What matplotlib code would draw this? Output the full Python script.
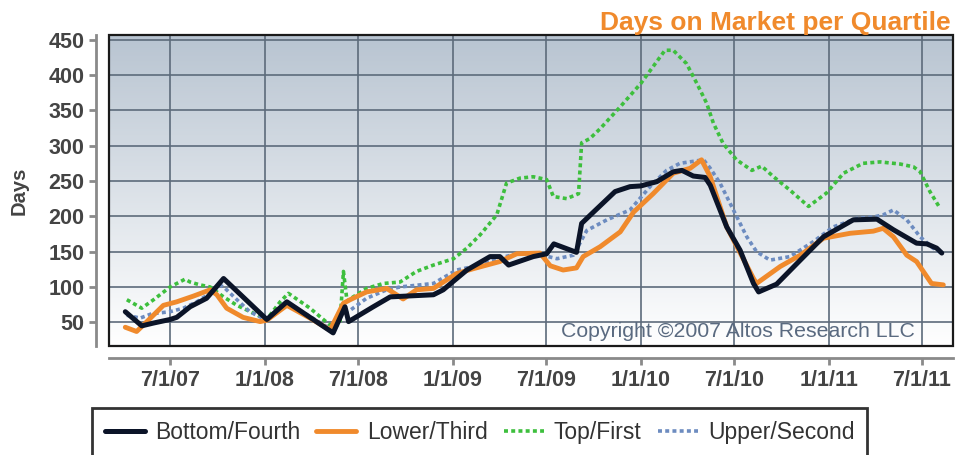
import numpy as np
import pandas as pd
import matplotlib
matplotlib.use("Agg")
import matplotlib.pyplot as plt
from matplotlib.patches import Rectangle

plt.rcParams['font.family'] = ['Liberation Sans', 'DejaVu Sans']

# Bottom/Fourth quartile
bottom_dates = ['2007-04-05', '2007-05-07', '2007-05-30', '2007-07-01', '2007-07-14', '2007-08-09',
                '2007-09-10', '2007-10-13', '2008-01-05', '2008-02-13', '2008-05-13', '2008-06-05',
                '2008-06-12', '2008-07-30', '2008-09-01', '2008-11-24', '2008-12-13', '2009-01-28',
                '2009-03-14', '2009-04-02', '2009-04-19', '2009-06-06', '2009-07-02', '2009-07-16',
                '2009-08-29', '2009-09-08', '2009-10-01', '2009-11-12', '2009-12-11', '2010-01-01',
                '2010-02-01', '2010-03-05', '2010-03-22', '2010-04-13', '2010-05-06', '2010-05-16',
                '2010-06-17', '2010-07-13', '2010-08-08', '2010-08-18', '2010-09-22', '2010-11-07',
                '2010-12-22', '2011-02-18', '2011-04-05', '2011-05-07', '2011-06-21', '2011-07-11',
                '2011-07-30', '2011-08-09']
bottom_vals = [65, 45, 49, 54, 57, 72,
               84, 112, 54, 79, 35, 72,
               51, 72, 86, 89, 96, 124,
               143, 143, 131, 143, 147, 161,
               149, 190, 206, 235, 242, 243,
               249, 263, 265, 257, 255, 244,
               185, 152, 105, 93, 104, 138,
               171, 195, 196, 181, 162, 161,
               155, 148]

# Lower/Third quartile
lower_dates = ['2007-04-05', '2007-04-27', '2007-05-17', '2007-06-18', '2007-07-14', '2007-08-15',
               '2007-09-17', '2007-09-30', '2007-10-19', '2007-11-20', '2007-12-23', '2008-01-05',
               '2008-02-13', '2008-03-29', '2008-05-07', '2008-06-02', '2008-06-15', '2008-07-17',
               '2008-08-25', '2008-09-26', '2008-10-22', '2008-11-24', '2009-01-08', '2009-02-10',
               '2009-04-02', '2009-05-05', '2009-06-19', '2009-07-09', '2009-08-03', '2009-08-29',
               '2009-09-11', '2009-10-14', '2009-11-09', '2009-11-22', '2009-12-18', '2010-01-25',
               '2010-03-05', '2010-04-07', '2010-04-29', '2010-05-16', '2010-06-17', '2010-08-08',
               '2010-08-14', '2010-09-29', '2010-11-07', '2010-12-22', '2011-02-12', '2011-03-29',
               '2011-04-17', '2011-05-07', '2011-06-02', '2011-06-21', '2011-07-20', '2011-08-12']
lower_vals = [43, 37, 51, 74, 79, 87,
              96, 89, 70, 57, 51, 53,
              74, 56, 39, 77, 82, 93,
              98, 83, 96, 98, 119, 126,
              136, 147, 148, 130, 124, 127,
              143, 157, 171, 178, 206, 232,
              261, 268, 280, 256, 185, 112,
              105, 129, 145, 169, 176, 179,
              183, 171, 145, 136, 105, 103]

# Top/First quartile
top_dates = ['2007-04-08', '2007-05-07', '2007-05-30', '2007-07-01', '2007-07-30', '2007-08-09',
             '2007-08-28', '2007-09-17', '2007-10-13', '2007-11-08', '2007-12-10', '2008-01-05',
             '2008-01-31', '2008-02-16', '2008-03-29', '2008-05-07', '2008-05-26', '2008-06-02',
             '2008-06-09', '2008-06-21', '2008-07-17', '2008-08-19', '2008-09-20', '2008-10-22',
             '2008-11-24', '2009-01-02', '2009-01-28', '2009-02-23', '2009-03-27', '2009-04-15',
             '2009-05-11', '2009-06-06', '2009-07-02', '2009-07-15', '2009-08-10', '2009-09-02',
             '2009-09-08', '2009-09-24', '2009-10-14', '2009-11-22', '2010-01-01', '2010-01-25',
             '2010-02-17', '2010-03-05', '2010-03-31', '2010-04-20', '2010-05-09', '2010-05-22',
             '2010-06-10', '2010-07-06', '2010-08-05', '2010-08-24', '2010-09-16', '2010-10-18',
             '2010-11-23', '2010-12-28', '2011-01-30', '2011-03-09', '2011-04-11', '2011-05-20',
             '2011-06-15', '2011-06-28', '2011-07-17', '2011-08-06']
top_vals = [82, 70, 82, 100, 111, 107,
            103, 100, 86, 74, 63, 54,
            79, 91, 70, 46, 47, 122,
            80, 86, 98, 105, 107, 122,
            131, 140, 155, 174, 202, 247,
            254, 256, 252, 228, 225, 232,
            304, 310, 324, 355, 388, 412,
            435, 435, 416, 388, 360, 332,
            303, 280, 265, 271, 256, 237,
            214, 233, 261, 275, 277, 274,
            270, 263, 235, 211]

# Upper/Second quartile
upper_dates = ['2007-04-08', '2007-05-04', '2007-05-26', '2007-07-01', '2007-07-27', '2007-08-22',
               '2007-09-17', '2007-10-06', '2007-10-16', '2007-11-08', '2007-12-03', '2008-01-05',
               '2008-02-13', '2008-05-07', '2008-06-02', '2008-06-15', '2008-07-17', '2008-08-25',
               '2008-09-20', '2008-11-24', '2009-01-08', '2009-02-10', '2009-04-02', '2009-05-05',
               '2009-06-19', '2009-07-22', '2009-08-23', '2009-09-18', '2009-10-27', '2009-12-11',
               '2010-01-19', '2010-02-20', '2010-03-18', '2010-05-03', '2010-05-16', '2010-06-04',
               '2010-06-30', '2010-07-26', '2010-08-14', '2010-09-09', '2010-10-18', '2010-12-02',
               '2011-01-10', '2011-02-25', '2011-03-29', '2011-04-17', '2011-05-07', '2011-06-02',
               '2011-06-28', '2011-07-23', '2011-08-09']
upper_vals = [60, 56, 62, 65, 70, 79,
              91, 103, 98, 82, 65, 53,
              78, 41, 63, 67, 84, 96,
              100, 105, 124, 129, 141, 147,
              146, 140, 145, 180, 195, 209,
              242, 265, 275, 280, 268, 247,
              209, 171, 150, 138, 143, 164,
              185, 197, 199, 202, 209, 195,
              171, 155, 148]

tick_dates = ['2007-07-01', '2008-01-01', '2008-07-01', '2009-01-01', '2009-07-01',
              '2010-01-01', '2010-07-01', '2011-01-01', '2011-07-01']
tick_labels = ['7/1/07', '1/1/08', '7/1/08', '1/1/09', '7/1/09',
               '1/1/10', '7/1/10', '1/1/11', '7/1/11']
y_ticks = [50, 100, 150, 200, 250, 300, 350, 400, 450]

fig = plt.figure(figsize=(9.55, 4.55), dpi=100)
ax = fig.add_axes([0.1145, 0.2396, 0.8835, 0.6841])

# gradient background of the plot area
grad = np.linspace(0, 1, 256).reshape(-1, 1)
cmap = matplotlib.colors.LinearSegmentedColormap.from_list('bg', ['#ffffff', '#b8c4d1'])
ax.imshow(grad, cmap=cmap, aspect='auto', extent=[0, 1, 0, 1], origin='lower',
          transform=ax.transAxes, zorder=0)

ax.plot(pd.to_datetime(top_dates), top_vals, color='#3dbf3d', lw=2.6,
        linestyle=(0, (1.1, 0.9)), label='Top/First', zorder=3)
ax.plot(pd.to_datetime(upper_dates), upper_vals, color='#6d8cc0', lw=2.6,
        linestyle=(0, (1.1, 0.9)), label='Upper/Second', zorder=3)
ax.plot(pd.to_datetime(lower_dates), lower_vals, color='#f08a2c', lw=3.5,
        solid_capstyle='round', label='Lower/Third', zorder=4)
ax.plot(pd.to_datetime(bottom_dates), bottom_vals, color='#0b1428', lw=3.6,
        solid_capstyle='round', label='Bottom/Fourth', zorder=5)

ax.set_xlim(pd.Timestamp('2007-03-05'), pd.Timestamp('2011-08-31'))
ax.set_ylim(16.5, 457)

ax.set_xticks(pd.to_datetime(tick_dates))
ax.set_xticklabels(tick_labels)
ax.set_yticks(y_ticks)

ax.grid(True, color='#5d6b7b', lw=1.2, zorder=1)
ax.set_axisbelow(True)

for side in ['top', 'right']:
    ax.spines[side].set_visible(False)
ax.spines['left'].set_position(('outward', 9.5))
ax.spines['bottom'].set_position(('outward', 8.5))
ax.spines['left'].set_color('#8a8a8a')
ax.spines['bottom'].set_color('#8a8a8a')
ax.spines['left'].set_linewidth(2)
ax.spines['bottom'].set_linewidth(2)
ax.tick_params(axis='both', colors='#8a8a8a', width=2, length=5, direction='out')
for lbl in ax.get_xticklabels() + ax.get_yticklabels():
    lbl.set_color('#444444')
    lbl.set_fontweight('bold')
    lbl.set_fontsize(15.5)

ax.add_patch(Rectangle((0, 0), 1, 1, transform=ax.transAxes, fill=False,
                       edgecolor='#1a1a1a', lw=1.6, zorder=6, clip_on=False))

ax.set_ylabel('Days', fontsize=14.5, fontweight='bold', color='#444444', labelpad=14)

fig.text(0.995, 0.95, 'Days on Market per Quartile', ha='right', va='center',
         fontsize=19, fontweight='bold', color='#f08a2c')
ax.text(0.955, 0.015, 'Copyright \u00a92007 Altos Research LLC', transform=ax.transAxes,
        ha='right', va='bottom', fontsize=15.3, color='#5a6a80', zorder=7)

h, l = ax.get_legend_handles_labels()
order = [3, 2, 0, 1]
leg = fig.legend([h[i] for i in order], [l[i] for i in order], ncol=4,
                 loc='upper left', bbox_to_anchor=(92 / 955, 1 - 408 / 455),
                 frameon=True, fancybox=False, fontsize=16.5, handlelength=1.75,
                 handletextpad=0.45, columnspacing=0.7, borderpad=0.55, borderaxespad=0)
leg.get_frame().set_edgecolor('black')
leg.get_frame().set_linewidth(2)
for t in leg.get_texts():
    t.set_color('#333333')

fig.savefig('out.png', dpi=100)
